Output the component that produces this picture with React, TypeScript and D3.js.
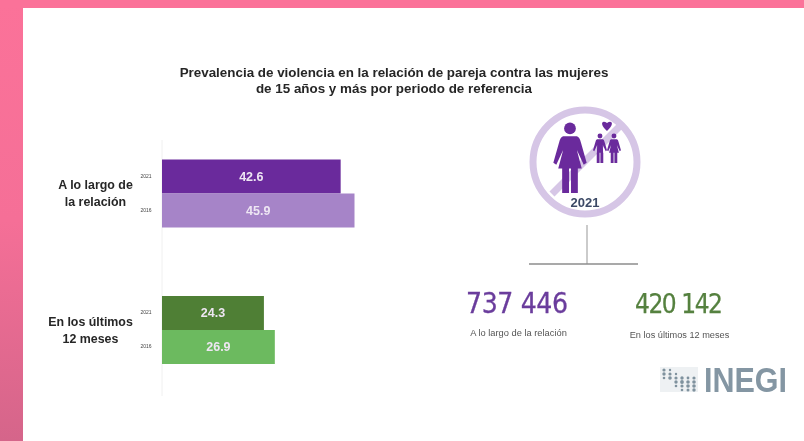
import React from "react";
import * as d3 from "d3";

const groups = ["A lo largo de la relación", "En los últimos 12 meses"];
const groupLines = [["A lo largo de", "la relación"], ["En los últimos", "12 meses"]];
const years = ["2021", "2016"];
const valuesLong = [42.6, 45.9];
const valuesRecent = [24.3, 26.9];
const colorsLong = ["#6a2c9c", "#a684c8"];
const colorsRecent = ["#4f7f34", "#6cba5e"];
const allValues = [valuesLong, valuesRecent];
const allColors = [colorsLong, colorsRecent];
const titleLines = [
  "Prevalencia de violencia en la relación de pareja contra las mujeres",
  "de 15 años y más por periodo de referencia",
];
const totals = ["737 446", "420 142"];
const totalLabels = ["A lo largo de la relación", "En los últimos 12 meses"];
const logoDots = [
  [0, 0, 1.6], [1, 0, 1.2], [0, 1, 1.7], [1, 1, 1.6], [2, 1, 1.2], [0, 2, 1.3], [1, 2, 1.8], [2, 2, 1.6],
  [3, 2, 1.7], [4, 2, 1.4], [5, 2, 1.6], [2, 3, 1.7], [3, 3, 1.9], [4, 3, 1.8], [5, 3, 1.8],
  [2, 4, 1.3], [3, 4, 1.6], [4, 4, 1.8], [5, 4, 1.8], [3, 5, 1.3], [4, 5, 1.5], [5, 5, 1.7],
];

const FONT = "'Liberation Sans', Arial, sans-serif";
const x = d3.scaleLinear().domain([0, 45.9]).range([162, 354.5]);
const yStarts = [159.5, 296];
const yBand = d3.scaleBand().domain(years).range([0, 68]).paddingInner(0);

function Person({ cx, top, s, dress }: { cx: number; top: number; s: number; dress: boolean }) {
  const p = d3.path();
  p.moveTo(cx - 7 * s, top + 14 * s);
  p.lineTo(cx + 7 * s, top + 14 * s);
  p.quadraticCurveTo(cx + 10 * s, top + 15 * s, cx + 11 * s, top + 20 * s);
  p.lineTo(cx + 17 * s, top + 41 * s);
  p.lineTo(cx + 14 * s, top + 43 * s);
  p.lineTo(cx + 7 * s, top + 28 * s);
  p.lineTo(cx + (dress ? 12 : 7.5) * s, top + 47 * s);
  p.lineTo(cx + 8 * s, top + 47 * s);
  p.lineTo(cx + 8 * s, top + 72 * s);
  p.lineTo(cx + 1 * s, top + 72 * s);
  p.lineTo(cx + 1 * s, top + 47 * s);
  p.lineTo(cx - 1 * s, top + 47 * s);
  p.lineTo(cx - 1 * s, top + 72 * s);
  p.lineTo(cx - 8 * s, top + 72 * s);
  p.lineTo(cx - 8 * s, top + 47 * s);
  p.lineTo(cx - (dress ? 12 : 7.5) * s, top + 47 * s);
  p.lineTo(cx - 7 * s, top + 28 * s);
  p.lineTo(cx - 14 * s, top + 43 * s);
  p.lineTo(cx - 17 * s, top + 41 * s);
  p.lineTo(cx - 11 * s, top + 20 * s);
  p.quadraticCurveTo(cx - 10 * s, top + 15 * s, cx - 7 * s, top + 14 * s);
  p.closePath();
  return (
    <g fill="#6a2c9c">
      <circle cx={cx} cy={top + 6 * s} r={6 * s} />
      <path d={p.toString()} />
    </g>
  );
}

export default function App() {
  return (
    <svg
      width={804}
      height={441}
      style={{ position: "absolute", left: 0, top: 0, display: "block" }}
      fontFamily={FONT}
    >
      <defs>
        <linearGradient id="side" x1="0" y1="0" x2="0" y2="1">
          <stop offset="0" stopColor="#fb7299" />
          <stop offset="0.5" stopColor="#f56f97" />
          <stop offset="1" stopColor="#d5658a" />
        </linearGradient>
        <filter id="soft" x="-5%" y="-5%" width="110%" height="110%">
          <feGaussianBlur stdDeviation="0.55" />
        </filter>
      </defs>
      <rect width={804} height={441} fill="#ffffff" />
      <rect x={0} y={0} width={23} height={441} fill="url(#side)" />
      <rect x={0} y={0} width={804} height={8} fill="#fb7299" />

      <g filter="url(#soft)">
        {titleLines.map((t, i) => (
          <text key={t} x={394} y={77 + i * 16} textAnchor="middle" fontSize={13.4} fontWeight={700} fill="#262626">
            {t}
          </text>
        ))}

        <line x1={x(0)} x2={x(0)} y1={140} y2={396} stroke="#f0f0f0" />

        {groups.map((g, gi) => (
          <g key={g}>
            {groupLines[gi].map((l, li) => (
              <text key={l} x={gi === 0 ? 95.5 : 90.5} y={(gi === 0 ? 189 : 326) + li * 17} textAnchor="middle" fontSize={12.4} fontWeight={700} fill="#262626">
                {l}
              </text>
            ))}
            {years.map((yr, i) => {
              const v = allValues[gi][i];
              const y0 = yStarts[gi] + (yBand(yr) as number);
              const h = yBand.bandwidth();
              return (
                <g key={yr}>
                  <rect x={x(0)} y={y0} width={x(v) - x(0)} height={h} fill={allColors[gi][i]} />
                  <text x={(x(0) + x(v)) / 2} y={y0 + h / 2 + 4} textAnchor="middle" fontSize={12.5} fontWeight={700} fill="#eee6f3">
                    {v.toFixed(1)}
                  </text>
                  <text x={146} y={y0 + h / 2 + 1} textAnchor="middle" fontSize={5} fill="#444">
                    {yr}
                  </text>
                </g>
              );
            })}
          </g>
        ))}

        {/* emblem */}
        <circle cx={585} cy={162} r={52} fill="none" stroke="#d6c6e6" strokeWidth={7} />
        <line x1={552} y1={194} x2={623} y2={123} stroke="#d6c6e6" strokeWidth={7} />
        <Person cx={570} top={122.5} s={0.98} dress={true} />
        <Person cx={600} top={133.5} s={0.41} dress={false} />
        <Person cx={614} top={133.5} s={0.41} dress={true} />
        <path d="M607 131 C599 124 602 119.5 607 123 C612 119.5 615 124 607 131 Z" fill="#6a2c9c" />
        <text x={585} y={207} textAnchor="middle" fontSize={13} fontWeight={700} fill="#3c4a66">2021</text>

        <line x1={587} x2={587} y1={225} y2={264} stroke="#a8a8a8" strokeWidth={1.2} />
        <line x1={529} x2={638} y1={264} y2={264} stroke="#8d8d8d" strokeWidth={1.4} />

        <text x={517} y={313} textAnchor="middle" fontSize={28} fill="#6a3c9c" stroke="#6a3c9c" strokeWidth={0.3} textLength={102} fontFamily="'DejaVu Sans Condensed','DejaVu Sans',sans-serif">
          {totals[0]}
        </text>
        <text x={679} y={312.5} textAnchor="middle" fontSize={26} fill="#55813f" stroke="#55813f" strokeWidth={0.25} textLength={88} fontFamily="'DejaVu Sans Condensed','DejaVu Sans',sans-serif">
          {totals[1]}
        </text>
        <text x={518.5} y={336} textAnchor="middle" fontSize={9.3} fill="#555">{totalLabels[0]}</text>
        <text x={679.5} y={338} textAnchor="middle" fontSize={9.2} fill="#555">{totalLabels[1]}</text>

        {/* logo */}
        <rect x={660} y={367} width={38} height={25} fill="#eef1f3" />
        {logoDots.map(([c, r, size], i) => (
          <circle key={i} cx={664 + c * 6} cy={370 + r * 4} r={size} fill="#7f929e" />
        ))}
        <text x={704} y={392} fontSize={35} fontWeight={700} fill="#8496a3" textLength={83} lengthAdjust="spacingAndGlyphs">
          INEGI
        </text>
      </g>
    </svg>
  );
}
